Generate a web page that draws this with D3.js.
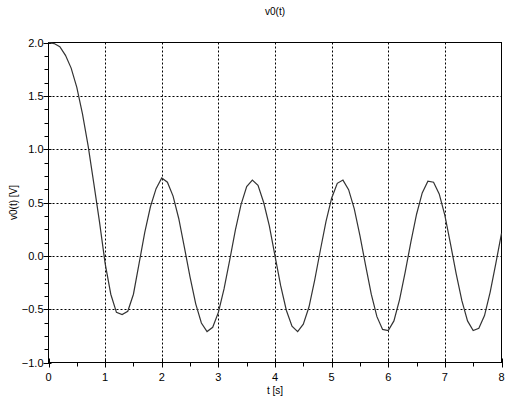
<!DOCTYPE html>
<html lang="en">
<head>
<meta charset="UTF-8">
<title>v0(t)</title>
<script src="https://d3js.org/d3.v7.min.js"></script>
<style>
  body { margin: 0; background: #fff; }
  text { font-family: "Liberation Sans", Arial, sans-serif; fill: #000; }
</style>
</head>
<body>
<div id="chart"></div>
<script>
// data, t step 0.1 s
const tValues = d3.range(0, 81).map(i => i / 10);
const v0Values = [
  2.00, 1.99, 1.96, 1.88, 1.76, 1.58, 1.33, 1.03, 0.68, 0.32,
  -0.07, -0.36, -0.53, -0.55, -0.52, -0.36, -0.07, 0.22, 0.46, 0.63,
  0.73, 0.69, 0.56, 0.35, 0.08, -0.20, -0.45, -0.63, -0.71, -0.67,
  -0.53, -0.31, -0.04, 0.24, 0.48, 0.65, 0.71, 0.66, 0.50, 0.28,
  0.00, -0.28, -0.51, -0.66, -0.71, -0.64, -0.48, -0.23, 0.05, 0.32,
  0.54, 0.68, 0.71, 0.62, 0.44, 0.19, -0.09, -0.36, -0.57, -0.69,
  -0.70, -0.61, -0.41, -0.15, 0.13, 0.39, 0.59, 0.70, 0.69, 0.58,
  0.38, 0.11, -0.17, -0.42, -0.61, -0.70, -0.68, -0.56, -0.34, -0.07,
  0.21
];
const xTicks = [0, 1, 2, 3, 4, 5, 6, 7, 8];
const yTicks = [-1.0, -0.5, 0.0, 0.5, 1.0, 1.5, 2.0];

const W = 506, H = 405;
const m = { left: 48.5, right: 4.5, top: 42.5, bottom: 42.5 };
const iw = W - m.left - m.right, ih = H - m.top - m.bottom;

const svg = d3.select("#chart").append("svg")
  .attr("width", W).attr("height", H);

const x = d3.scaleLinear().domain([0, 8]).range([m.left, m.left + iw]);
const y = d3.scaleLinear().domain([-1, 2]).range([m.top + ih, m.top]);

// grid
svg.append("g").selectAll("line").data(xTicks.slice(1, -1)).enter().append("line")
  .attr("x1", d => Math.round(x(d)) + 0.5).attr("x2", d => Math.round(x(d)) + 0.5)
  .attr("y1", m.top).attr("y2", m.top + ih)
  .attr("stroke", "#000").attr("stroke-dasharray", "2,2");
svg.append("g").selectAll("line").data(yTicks.slice(1, -1)).enter().append("line")
  .attr("y1", d => Math.round(y(d)) + 0.5).attr("y2", d => Math.round(y(d)) + 0.5)
  .attr("x1", m.left).attr("x2", m.left + iw)
  .attr("stroke", "#000").attr("stroke-dasharray", "2,2");

// frame
svg.append("rect")
  .attr("x", m.left).attr("y", m.top).attr("width", iw).attr("height", ih)
  .attr("fill", "none").attr("stroke", "#000").attr("stroke-width", 1);

// x axis ticks
const xMinor = d3.range(0.5, 8, 1);
svg.append("g").selectAll("line").data(xTicks).enter().append("line")
  .attr("x1", d => Math.round(x(d)) + 0.5).attr("x2", d => Math.round(x(d)) + 0.5)
  .attr("y1", m.top + ih - 4).attr("y2", m.top + ih + 5)
  .attr("stroke", "#000");
svg.append("g").selectAll("line").data(xMinor).enter().append("line")
  .attr("x1", d => Math.round(x(d)) + 0.5).attr("x2", d => Math.round(x(d)) + 0.5)
  .attr("y1", m.top + ih).attr("y2", m.top + ih + 4)
  .attr("stroke", "#000");
svg.append("g").selectAll("text").data(xTicks).enter().append("text")
  .attr("x", d => x(d)).attr("y", m.top + ih + 18)
  .attr("text-anchor", "middle").attr("font-size", 11)
  .text(d => d3.format("d")(d));

// y axis ticks
const yMinor = d3.range(-1, 2.001, 0.125).filter(v => Math.abs(v * 2 - Math.round(v * 2)) > 1e-6);
svg.append("g").selectAll("line").data(yTicks).enter().append("line")
  .attr("y1", d => Math.round(y(d)) + 0.5).attr("y2", d => Math.round(y(d)) + 0.5)
  .attr("x1", m.left - 5).attr("x2", m.left + 3)
  .attr("stroke", "#000");
svg.append("g").selectAll("line").data(yMinor).enter().append("line")
  .attr("y1", d => Math.round(y(d)) + 0.5).attr("y2", d => Math.round(y(d)) + 0.5)
  .attr("x1", m.left - 4).attr("x2", m.left)
  .attr("stroke", "#000");
svg.append("g").selectAll("text").data(yTicks).enter().append("text")
  .attr("x", m.left - 5).attr("y", d => y(d) + 4)
  .attr("text-anchor", "end").attr("font-size", 11)
  .text(d => d3.format(".1f")(d).replace("-", "\u2212"));

// curve
const line = d3.line().x((d, i) => x(tValues[i])).y(d => y(d));
svg.append("path")
  .datum(v0Values)
  .attr("d", line)
  .attr("fill", "none")
  .attr("stroke", "#333")
  .attr("stroke-width", 1.2);

// titles
svg.append("text").attr("x", m.left + iw / 2).attr("y", 15)
  .attr("text-anchor", "middle").attr("font-size", 10).text("v0(t)");
svg.append("text").attr("x", m.left + iw / 2).attr("y", 394)
  .attr("text-anchor", "middle").attr("font-size", 10).text("t [s]");
svg.append("text")
  .attr("transform", `translate(17, ${m.top + ih / 2}) rotate(-90)`)
  .attr("text-anchor", "middle").attr("font-size", 10).text("v0(t) [V]");
</script>
</body>
</html>
